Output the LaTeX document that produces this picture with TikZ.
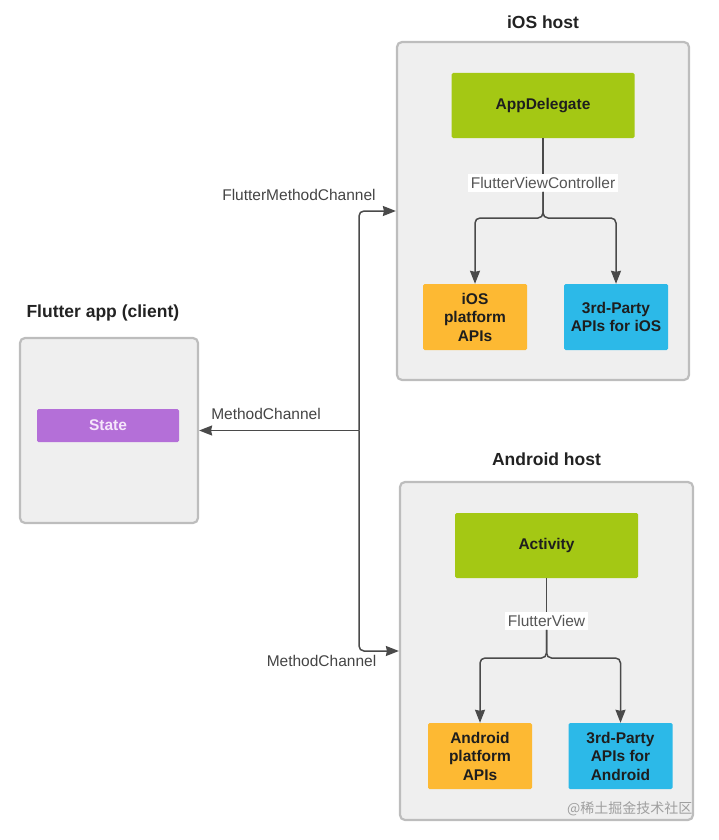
\documentclass[tikz,border=0pt]{standalone}
\usepackage{fontspec}
\setmainfont{Liberation Sans}
\newfontfamily\cjk{Noto Sans CJK SC}
\usetikzlibrary{arrows.meta,positioning}
\definecolor{hostfill}{HTML}{EFEFEF}
\definecolor{hostline}{HTML}{BDBDBD}
\definecolor{leafgreen}{HTML}{A4C814}
\definecolor{apiorange}{HTML}{FDB933}
\definecolor{apiblue}{HTML}{2CB9E8}
\definecolor{statepurple}{HTML}{B46FD8}
\definecolor{statetext}{HTML}{F5E6FA}
\definecolor{blocktext}{HTML}{1E1E1E}
\definecolor{linkcolor}{HTML}{4A4A4A}
\definecolor{chantext}{HTML}{444444}
\definecolor{viatext}{HTML}{555555}
\definecolor{titletext}{HTML}{222222}

\begin{document}
\begin{tikzpicture}[x=1pt,y=-1pt,on grid,
   host/.style={draw=hostline,line width=2.2pt,fill=hostfill,rounded corners=5pt,
      minimum width=292pt,minimum height=338pt},
   title/.style={font=\fontsize{17.5}{21}\selectfont\bfseries,text=titletext},
   block/.style={rounded corners=1.5pt,minimum width=183pt,minimum height=65pt,inner sep=0pt,
      font=\fontsize{15.5}{18.5}\selectfont\bfseries,text=blocktext,align=center},
   api/.style={block,minimum width=104pt,minimum height=66pt},
   via/.style={fill=white,text=viatext,font=\fontsize{15.5}{18.5}\selectfont,inner sep=3pt},
   chan/.style={text=chantext,font=\fontsize{15.5}{18.5}\selectfont},
   wire/.style={draw=linkcolor,line width=1.5pt,rounded corners=5pt},
   link/.style={wire,-{Stealth[length=13pt,width=10pt,inset=1pt]}}]
   \useasboundingbox (0,0) rectangle (718,840);

   \node[host,minimum width=178pt,minimum height=185pt] (client) at (109,430.5) {};
   \node[host] (ios) at (543,211) {};
   \node[host,minimum width=293pt] (android) at (546.5,651) {};
   \node[title,anchor=west] (client_t) at (23,313) {Flutter app (client)};
   \node[title,above=189pt of ios] (ios_t) {iOS host};
   \node[title,above=192pt of android] (android_t) {Android host};

   \node[block,fill=statepurple,text=statetext,minimum width=142pt,minimum height=33pt]
      (state) at (108,425.5) {State};

   \node[block,fill=leafgreen,above=105.5pt of ios] (delegate) {AppDelegate};
   \node[via,below=77.5pt of delegate] (fvc) {FlutterViewController};
   \coordinate[below=35pt of fvc] (ios_fork);
   \node[api,fill=apiorange,below left=211.5pt and 68pt of delegate] (ios_api) {iOS\\platform\\APIs};
   \node[api,fill=apiblue,below right=211.5pt and 73pt of delegate] (ios_3rd) {3rd-Party\\APIs for iOS};

   \node[block,fill=leafgreen,above=105.5pt of android] (activity) {Activity};
   \node[via,below=75.5pt of activity] (fv) {FlutterView};
   \coordinate[below=37pt of fv] (and_fork);
   \node[api,fill=apiorange,below left=210.5pt and 66.5pt of activity] (and_api) {Android\\platform\\APIs};
   \node[api,fill=apiblue,below right=210.5pt and 74pt of activity] (and_3rd) {3rd-Party\\APIs for\\Android};

   \draw[wire] (delegate) -- (fvc);
   \draw[link] (fvc) -- (ios_fork) -| (ios_api);
   \draw[link] (fvc) -- (ios_fork) -| (ios_3rd);
   \draw[wire] (activity) -- (fv);
   \draw[link] (fv) -- (and_fork) -| (and_api);
   \draw[link] (fv) -- (and_fork) -| (and_3rd);

   \coordinate (hub) at (359,430.5);
   \draw[link] (hub) -- (client);
   \draw[link] (hub) |- (ios);
   \draw[link] (hub) |- (android);
   \node[chan] (fmc_l) at (299,195) {FlutterMethodChannel};
   \node[chan] (mc_top) at (266,414) {MethodChannel};
   \node[chan] (mc_bot) at (321.5,661) {MethodChannel};

   \node[text=gray!75,font=\cjk\fontsize{14}{16}\selectfont,anchor=east] (mark) at (696,809) {@稀土掘金技术社区};
\end{tikzpicture}
\end{document}
